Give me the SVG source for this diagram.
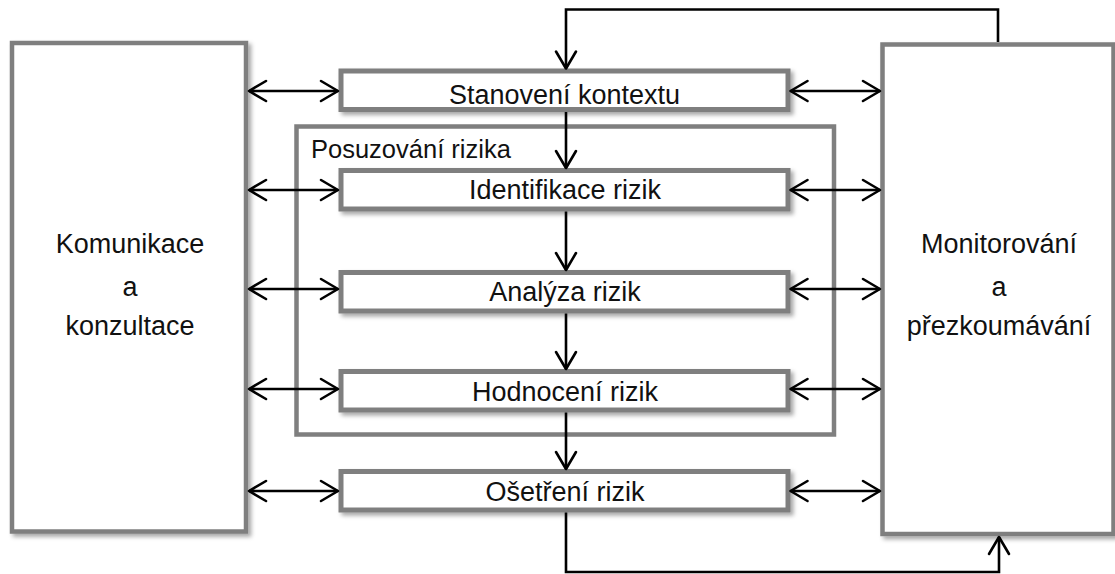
<svg xmlns="http://www.w3.org/2000/svg" width="1115" height="574" viewBox="0 0 1115 574">
<defs>
<filter id="sh" x="-10%" y="-10%" width="130%" height="140%">
<feDropShadow dx="3" dy="3" stdDeviation="2" flood-color="#000" flood-opacity="0.35"/>
</filter>
<marker id="ah" viewBox="-20 -12 24 24" markerWidth="24" markerHeight="24" refX="0" refY="0" orient="auto-start-reverse" markerUnits="userSpaceOnUse">
<path d="M-17,-10 L0,0 L-17,10" fill="none" stroke="#000" stroke-width="2.6" stroke-linecap="round" stroke-linejoin="round"/>
</marker>
</defs>
<style>
.box{fill:#fff;stroke:#7f7f7f;stroke-width:5;filter:url(#sh)}
.big{fill:#fff;stroke:#7f7f7f;stroke-width:4.5;filter:url(#sh)}
.grp{fill:none;stroke:#7f7f7f;stroke-width:4.5}
.t{font-family:"Liberation Sans",Arial,sans-serif;font-size:27px;fill:#111;text-anchor:middle}
.lbl{text-anchor:start;font-size:25.5px}
.c{fill:none;stroke:#000;stroke-width:2.6}
.d{marker-start:url(#ah);marker-end:url(#ah)}
.e{marker-end:url(#ah)}
</style>
<g id="posuzovani">
<rect class="grp" x="296.5" y="126.5" width="537.5" height="308"/>
<text class="t lbl" x="311" y="158">Posuzování rizika</text>
</g>
<g id="komunikace">
<rect class="big" x="12" y="43" width="234" height="488.5"/>
<text class="t" x="130" y="253">Komunikace</text>
<text class="t" x="130" y="296">a</text>
<text class="t" x="130" y="335">konzultace</text>
</g>
<g id="monitorovani">
<rect class="big" x="882.5" y="44.5" width="231" height="489.5"/>
<text class="t" x="999" y="253">Monitorování</text>
<text class="t" x="999" y="296">a</text>
<text class="t" x="999" y="335">přezkoumávání</text>
</g>
<g id="stanoveni">
<rect class="box" x="341" y="71" width="447" height="38.5"/>
<text class="t" x="564.5" y="104">Stanovení kontextu</text>
</g>
<g id="identifikace">
<rect class="box" x="341" y="170.5" width="447" height="38.5"/>
<text class="t" x="565" y="198.5">Identifikace rizik</text>
</g>
<g id="analyza">
<rect class="box" x="341" y="272.5" width="447" height="38.5"/>
<text class="t" x="565" y="301">Analýza rizik</text>
</g>
<g id="hodnoceni">
<rect class="box" x="341" y="371.5" width="447" height="38.5"/>
<text class="t" x="565" y="400.5">Hodnocení rizik</text>
</g>
<g id="osetreni">
<rect class="box" x="341" y="471.5" width="447" height="38.5"/>
<text class="t" x="565" y="500.5">Ošetření rizik</text>
</g>
<g id="connectors">
<line class="c d" x1="249" y1="91" x2="338" y2="91"/>
<line class="c d" x1="249" y1="190" x2="338" y2="190"/>
<line class="c d" x1="249" y1="289" x2="338" y2="289"/>
<line class="c d" x1="249" y1="389" x2="338" y2="389"/>
<line class="c d" x1="249" y1="491" x2="338" y2="491"/>
<line class="c d" x1="790.5" y1="91" x2="880" y2="91"/>
<line class="c d" x1="790.5" y1="190" x2="880" y2="190"/>
<line class="c d" x1="790.5" y1="289" x2="880" y2="289"/>
<line class="c d" x1="790.5" y1="389" x2="880" y2="389"/>
<line class="c d" x1="790.5" y1="491" x2="880" y2="491"/>
<line class="c e" x1="566" y1="112" x2="566" y2="168"/>
<line class="c e" x1="566" y1="211.5" x2="566" y2="270"/>
<line class="c e" x1="566" y1="313.5" x2="566" y2="369"/>
<line class="c e" x1="566" y1="412.5" x2="566" y2="469"/>
<path class="c e" d="M998,42 V9.5 H566 V68.5"/>
<path class="c e" d="M566,512.5 V572 H999 V537"/>
</g>
</svg>
